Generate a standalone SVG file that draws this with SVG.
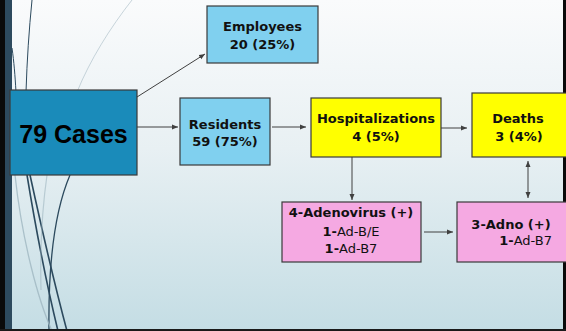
<svg xmlns="http://www.w3.org/2000/svg" width="566" height="331" viewBox="0 0 566 331">
<defs>
<linearGradient id="bg" x1="0" y1="0" x2="0" y2="1">
<stop offset="0" stop-color="#fafbfc"/>
<stop offset="0.45" stop-color="#e8f0f3"/>
<stop offset="1" stop-color="#c4dde4"/>
</linearGradient>
<marker id="ah" viewBox="0 0 6 6" refX="6" refY="3" markerWidth="6" markerHeight="6" markerUnits="userSpaceOnUse" orient="auto-start-reverse">
<path d="M0,0.5 L6,3 L0,5.5 Z" fill="#404040"/>
</marker>
<style>
.box{stroke:#3a3a3a;stroke-width:1.2}
.cases{fill:#1a8bba}
.blue{fill:#80d0ef}
.yellow{fill:#ffff00}
.pink{fill:#f5a9e2}
.lbl{font-family:"DejaVu Sans","Liberation Sans",sans-serif;font-weight:bold;font-size:13px;fill:#111;text-anchor:middle}
.reg{font-weight:normal}
.conn{stroke:#404040;stroke-width:1;fill:none;marker-end:url(#ah)}
.wd{stroke:#2c4a5e;fill:none}
.wl{stroke:#9fb6c0;fill:none}
</style>
</defs>
<rect x="0" y="0" width="566" height="331" fill="url(#bg)"/>
<g id="decor">
<path class="wd" stroke-width="1" d="M32,0 C29,30 27,60 26,92"/>
<path class="wd" stroke-width="1" d="M12,48 C14,62 15,75 16,92"/>
<path class="wl" stroke-width="0.8" opacity="0.7" d="M132,0 C110,28 90,60 77,92"/>
<path class="wd" stroke-width="1.6" d="M27,175 C36,230 48,290 58,331"/>
<path class="wd" stroke-width="1.6" d="M30,175 C42,230 56,290 67,331"/>
<path class="wd" stroke-width="1.3" d="M70,175 C55,210 48,260 49,331"/>
<path class="wl" stroke-width="1.3" opacity="0.8" d="M15,175 C22,240 38,300 52,331"/>
<path class="wl" stroke-width="1.2" opacity="0.6" d="M47,175 C42,210 40,250 41,290"/>
</g>
<rect x="0" y="0" width="5" height="331" fill="#0a0a0a"/>
<rect x="5" y="0" width="7" height="331" fill="#2d4a5e"/>
<rect x="563" y="0" width="3" height="331" fill="#0a0a0a"/>
<rect x="0" y="329" width="566" height="2" fill="#1a1a1a"/>
<g id="connectors">
<line class="conn" x1="137" y1="97" x2="205" y2="54"/>
<line class="conn" x1="137" y1="127" x2="178" y2="127"/>
<line class="conn" x1="272" y1="127" x2="306" y2="127"/>
<line class="conn" x1="441" y1="128" x2="467" y2="128"/>
<line class="conn" x1="352" y1="157" x2="352" y2="200"/>
<line class="conn" x1="424" y1="232" x2="453" y2="232"/>
<line class="conn" style="marker-start:url(#ah)" x1="528" y1="161" x2="528" y2="198"/>
</g>
<g id="cases">
<rect class="box cases" x="10" y="90" width="127" height="85"/>
<text x="73.5" y="143" style="font-family:'Liberation Sans',Arial,sans-serif;font-weight:bold;font-size:25px;fill:#000;text-anchor:middle">79 Cases</text>
</g>
<g id="employees">
<rect class="box blue" x="207" y="6" width="111" height="57"/>
<text class="lbl" x="262.5" y="31">Employees</text>
<text class="lbl" x="262.5" y="49">20 (25%)</text>
</g>
<g id="residents">
<rect class="box blue" x="180" y="98" width="90" height="67"/>
<text class="lbl" x="225" y="129">Residents</text>
<text class="lbl" x="225" y="146">59 (75%)</text>
</g>
<g id="hospitalizations">
<rect class="box yellow" x="311" y="98" width="130" height="59"/>
<text class="lbl" x="376" y="123">Hospitalizations</text>
<text class="lbl" x="376" y="141">4 (5%)</text>
</g>
<g id="deaths">
<rect class="box yellow" x="472" y="93" width="96" height="64"/>
<text class="lbl" x="518" y="123">Deaths</text>
<text class="lbl" x="519" y="141">3 (4%)</text>
</g>
<g id="adenovirus">
<rect class="box pink" x="282" y="202" width="139" height="60"/>
<text class="lbl" x="351" y="217">4-Adenovirus (+)</text>
<text class="lbl" x="351" y="236">1-<tspan class="reg">Ad-B/E</tspan></text>
<text class="lbl" x="351" y="253">1-<tspan class="reg">Ad-B7</tspan></text>
</g>
<g id="adno">
<rect class="box pink" x="457" y="202" width="111" height="60"/>
<text class="lbl" x="511" y="229">3-Adno (+)</text>
<text class="lbl" x="552" y="245" style="text-anchor:end">1-<tspan class="reg">Ad-B7</tspan></text>
</g>
</svg>
